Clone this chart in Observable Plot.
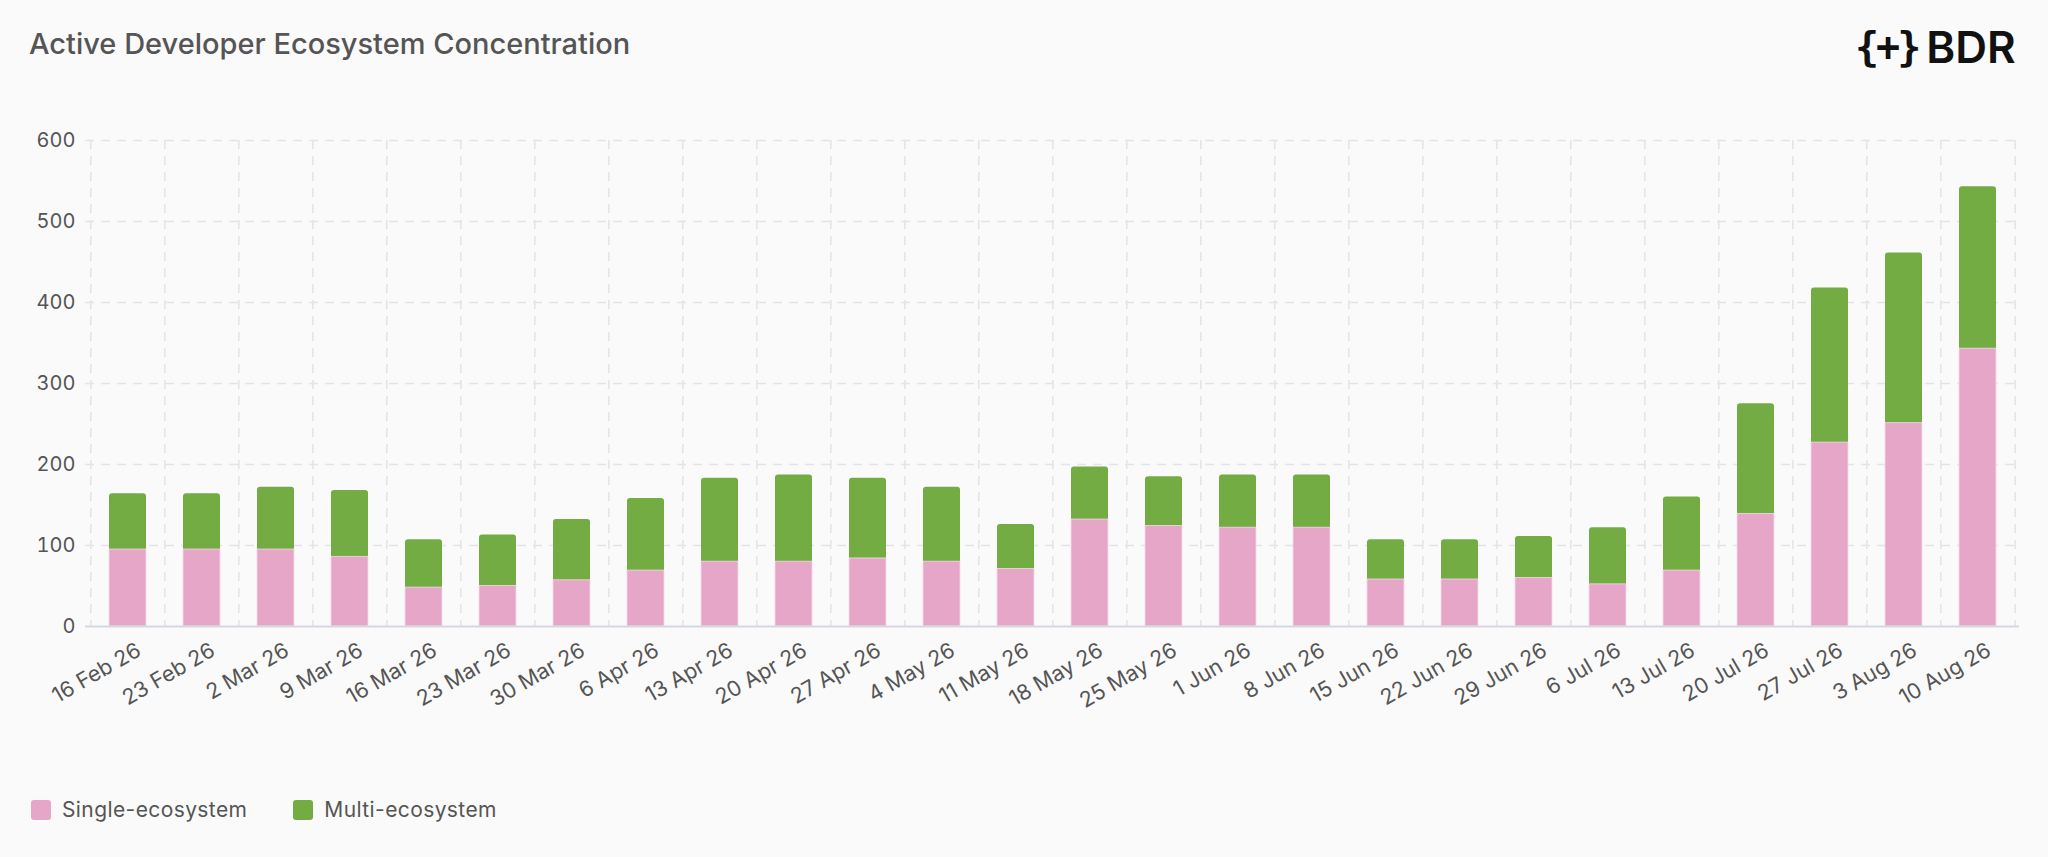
<!DOCTYPE html>
<html>
<head>
<meta charset="utf-8">
<script src="https://cdn.jsdelivr.net/npm/d3@7"></script>
<script src="https://cdn.jsdelivr.net/npm/@observablehq/plot@0.6"></script>
<style>
  html, body { margin: 0; padding: 0; background: #fafafa; }
  body { width: 2048px; height: 857px; position: relative; overflow: hidden; font-family: Inter, "Noto Sans", sans-serif; }
  #title { position: absolute; left: 29px; top: 26px; font-size: 29px; font-weight: 500; color: #555; letter-spacing: 0px; }
  #logo { position: absolute; left: 1855px; top: 20px; display: flex; align-items: center; color: #111; }
  #logo .br { font-family: "DejaVu Sans Mono", monospace; font-weight: bold; font-size: 40px; letter-spacing: -3px; }
  #logo .name { font-family: Inter, sans-serif; font-weight: 600; font-size: 44px; margin-left: 8px; letter-spacing: 0px; }
  #chart { position: absolute; left: 0; top: 100px; }
  #legend { position: absolute; left: 31px; top: 797px; display: flex; align-items: center; font-size: 21px; letter-spacing: 0.4px; color: #555; }
  #legend .item { display: flex; align-items: center; margin-right: 46px; }
  #legend .sw { width: 20px; height: 20px; border-radius: 3px; margin-right: 11px; }
</style>
</head>
<body>
<div id="title">Active Developer Ecosystem Concentration</div>
<div id="logo"><span class="br">{+}</span><span class="name">BDR</span></div>
<div id="chart"></div>
<div id="legend"></div>
<script>
const weeks = ["16 Feb 26","23 Feb 26","2 Mar 26","9 Mar 26","16 Mar 26","23 Mar 26","30 Mar 26","6 Apr 26","13 Apr 26","20 Apr 26","27 Apr 26","4 May 26","11 May 26","18 May 26","25 May 26","1 Jun 26","8 Jun 26","15 Jun 26","22 Jun 26","29 Jun 26","6 Jul 26","13 Jul 26","20 Jul 26","27 Jul 26","3 Aug 26","10 Aug 26"];
const single = [95,95,95,86,48,50,57,69,80,80,84,80,71,132,124,122,122,58,58,60,52,69,139,227,251,343];
const multi  = [69,69,77,82,59,63,75,89,103,107,99,92,55,65,61,65,65,49,49,51,70,91,136,191,210,200];
const seriesNames = ["Single-ecosystem","Multi-ecosystem"];
const seriesColors = ["#e6a6c8","#72ac43"];
const yTicks = [0,100,200,300,400,500,600];

const rows = weeks.map((w, i) => ({week: w, single: single[i], multi: multi[i], total: single[i] + multi[i]}));

const W = 2048, H = 620, ML = 85, MR = 29, MT = 40, MB = 94;
const step = (W - ML - MR) / weeks.length;

const plot = Plot.plot({
  width: W, height: H,
  marginLeft: ML, marginRight: MR, marginTop: MT, marginBottom: MB,
  style: {background: "transparent", fontFamily: "Inter, 'Noto Sans', sans-serif", fontSize: "20px", color: "#555"},
  x: {domain: weeks, paddingInner: 0.5, paddingOuter: 0.25, label: null},
  y: {domain: [0, 600], ticks: yTicks, label: null},
  marks: [
    Plot.ruleY(yTicks.filter(d => d > 0), {stroke: "#e3e3ea", strokeWidth: 1.5, strokeDasharray: "9,7"}),
    Plot.ruleX(weeks, {x: d => d, dx: -step / 2, stroke: "#e3e3ea", strokeWidth: 1.5, strokeDasharray: "9,7"}),
    Plot.ruleX(weeks.slice(-1), {x: d => d, dx: step / 2, stroke: "#e3e3ea", strokeWidth: 1.5, strokeDasharray: "9,7"}),
    Plot.rectY(rows, {x: "week", y1: 0, y2: "total", fill: seriesColors[1], rx: 3}),
    Plot.rectY(rows, {x: "week", y1: 0, y2: "single", fill: seriesColors[0], stroke: "#f3dbe8", strokeWidth: 0.8}),
    Plot.ruleY([0], {stroke: "#d5d8e0", strokeWidth: 2}),
    Plot.axisY({ticks: yTicks, tickSize: 0, tickPadding: 10, label: null, fill: "#555", fontSize: 20}),
    Plot.axisX({tickSize: 0, tickPadding: 22, dx: 11, tickRotate: -30, label: null, fill: "#555", fontSize: 21.5})
  ]
});
document.getElementById("chart").appendChild(plot);

const legend = document.getElementById("legend");
seriesNames.forEach((n, i) => {
  const it = document.createElement("div");
  it.className = "item";
  const sw = document.createElement("div");
  sw.className = "sw";
  sw.style.background = seriesColors[i];
  const t = document.createElement("span");
  t.textContent = n;
  it.appendChild(sw); it.appendChild(t);
  legend.appendChild(it);
});
</script>
</body>
</html>
